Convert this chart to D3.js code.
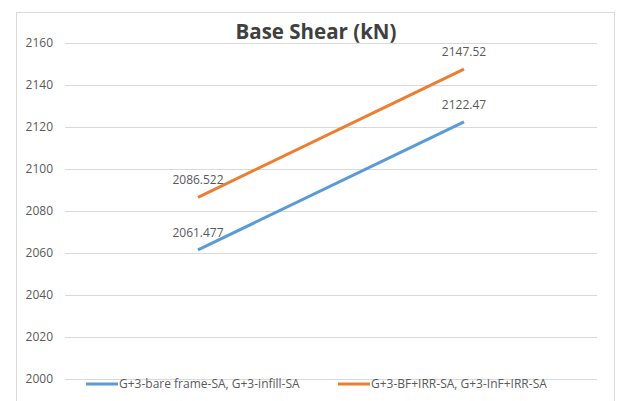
<!DOCTYPE html>
<meta charset="utf-8">
<script src="https://d3js.org/d3.v7.min.js"></script>
<style>
body { margin: 0; background: #fff; }
.grid line { stroke: #d9d9d9; }
text { font-family: "Open Sans", "Liberation Sans", sans-serif; fill: #595959; }
</style>
<div id="chart"></div>
<script>
  // Data
  var categories = ["A", "B"];
  var seriesNames = ["G+3-bare frame-SA, G+3-infill-SA", "G+3-BF+IRR-SA, G+3-InF+IRR-SA"];
  var blueValues = [2061.477, 2122.47];
  var orangeValues = [2086.522, 2147.52];
  var labelsBlue = ["2061.477", "2122.47"];
  var labelsOrange = ["2086.522", "2147.52"];
  var yTicks = [2000, 2020, 2040, 2060, 2080, 2100, 2120, 2140, 2160];
  var colors = ["#5b9bd5", "#ed7d31"];

  var W = 618, H = 401;
  var svg = d3.select("#chart").append("svg")
      .attr("width", W).attr("height", H);

  // chart frame
  svg.append("rect")
     .attr("x", 16.5).attr("y", 12.5)
     .attr("width", 598).attr("height", 400)
     .attr("fill", "none").attr("stroke", "#d9d9d9");

  var pLeft = 65, pRight = 597, pTop = 43, pBottom = 379;

  var x = d3.scalePoint().domain(categories).range([pLeft, pRight]).padding(0.5);
  var y = d3.scaleLinear().domain([2000, 2160]).range([pBottom, pTop]);

  // gridlines
  var grid = svg.append("g").attr("class", "grid");
  grid.selectAll("line").data(yTicks).enter().append("line")
      .attr("x1", pLeft).attr("x2", pRight)
      .attr("y1", function (d) { return y(d) + 0.5; })
      .attr("y2", function (d) { return y(d) + 0.5; });

  // y axis labels
  var axis = d3.axisLeft(y).tickValues(yTicks).tickSize(0).tickPadding(0).tickFormat(d3.format("d"));
  var ax = svg.append("g").attr("transform", "translate(53,0)").call(axis);
  ax.select(".domain").remove();
  ax.selectAll("text").style("font-size", "12px").style("font-family", null).attr("fill", "#595959");

  // title
  svg.append("text")
     .attr("x", 316).attr("y", 39)
     .attr("text-anchor", "middle")
     .style("font-size", "20.5px").style("font-weight", "bold")
     .style("fill", "#404040")
     .text("Base Shear (kN)");

  var line = d3.line()
      .x(function (d, i) { return x(categories[i]); })
      .y(function (d) { return y(d); });

  var series = [blueValues, orangeValues];
  var labels = [labelsBlue, labelsOrange];

  series.forEach(function (vals, k) {
    svg.append("path")
       .datum(vals)
       .attr("d", line)
       .attr("fill", "none")
       .attr("stroke", colors[k])
       .attr("stroke-width", 3);

    svg.selectAll(".lbl" + k).data(vals).enter().append("text")
       .attr("x", function (d, i) { return x(categories[i]); })
       .attr("y", function (d) { return y(d) - 13; })
       .attr("text-anchor", "middle")
       .style("font-size", "12px")
       .text(function (d, i) { return labels[k][i]; });
  });

  // legend
  var legX = [86, 338];
  seriesNames.forEach(function (name, k) {
    svg.append("line")
       .attr("x1", legX[k]).attr("x2", legX[k] + 32)
       .attr("y1", 384).attr("y2", 384)
       .attr("stroke", colors[k]).attr("stroke-width", 3);
    svg.append("text")
       .attr("x", legX[k] + 33).attr("y", 388)
       .style("font-size", "12px")
       .text(name);
  });
</script>
